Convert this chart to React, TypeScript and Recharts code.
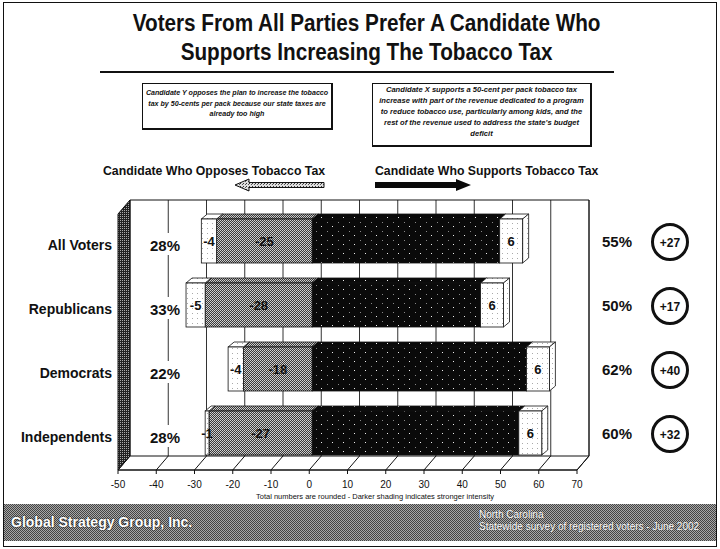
import { BarChart, Bar, XAxis, YAxis, CartesianGrid, ReferenceArea, LabelList } from "recharts";

const groups = ["All Voters", "Republicans", "Democrats", "Independents"];
const strongOppose = [-25, -28, -18, -27];
const someOppose = [-4, -5, -4, -1];
const strongSupport = [49, 44, 56, 54];
const someSupport = [6, 6, 6, 6];
const opposeTotal = [28, 33, 22, 28];
const supportTotal = [55, 50, 62, 60];
const netMargin = [27, 17, 40, 32];
const axisTicks = [-50, -40, -30, -20, -10, 0, 10, 20, 30, 40, 50, 60, 70];
const domain = [-50, 70];

const rows = groups.map((g, i) => ({
  group: g,
  strongOppose: strongOppose[i],
  someOppose: someOppose[i],
  strongSupport: strongSupport[i],
  someSupport: someSupport[i],
}));

const FONT = "'Liberation Sans', Arial, Helvetica, sans-serif";
const DX = 6;
const DY = 5;

function Block(props: any) {
  const { x, y, width, height, fill, side } = props;
  const x0 = Math.min(x, x + width);
  const w = Math.abs(width);
  if (!w || !height) return null;
  const st = { stroke: "#111", strokeWidth: 0.8 };
  return (
    <g>
      <polygon points={`${x0},${y} ${x0 + DX},${y - DY} ${x0 + w + DX},${y - DY} ${x0 + w},${y}`} fill={fill} {...st} />
      {side && (
        <polygon
          points={`${x0 + w},${y} ${x0 + w + DX},${y - DY} ${x0 + w + DX},${y + height - DY} ${x0 + w},${y + height}`}
          fill={fill}
          {...st}
        />
      )}
      <rect x={x0} y={y} width={w} height={height} fill={fill} {...st} />
    </g>
  );
}

const segLabel = (p: any) => {
  const vb = p.viewBox ?? p;
  const cx = Number(vb.x) + Number(vb.width) / 2;
  const cy = Number(vb.y) + Number(vb.height) / 2;
  return (
    <text x={cx} y={cy + 5} textAnchor="middle" fontFamily={FONT} fontWeight={700} fontSize={13} fill="#111">
      {p.value}
    </text>
  );
};

function Frame(p: any) {
  const { x, y, width, height } = p;
  const fl = x - 3;
  const fr = x + width - 3;
  const floorF = y + height + 5;
  const floorB = floorF - 14;
  const top = y - 9;
  const bl = fl + 12;
  const br = fr + 12;
  return (
    <g>
      <polygon points={`${fl},${top + 14} ${bl},${top} ${bl},${floorB} ${fl},${floorF}`} fill="url(#pWall)" stroke="#111" />
      <polyline points={`${bl},${top} ${br},${top} ${br},${floorB} ${fr},${floorF}`} fill="none" stroke="#111" />
      <line x1={bl} y1={floorB} x2={br} y2={floorB} stroke="#111" />
      <line x1={fl} y1={floorF} x2={fr} y2={floorF} stroke="#111" strokeWidth={1.5} />
    </g>
  );
}

function FloorTick(p: any) {
  const { x, y, payload } = p;
  const fx = x - 3;
  return (
    <g>
      <line x1={fx} y1={y} x2={fx + 12} y2={y - 14} stroke="#111" />
      <line x1={fx} y1={y} x2={fx} y2={y + 4} stroke="#111" />
      <text x={fx} y={y + 18} textAnchor="middle" fontFamily={FONT} fontSize={10} fill="#111">
        {payload.value}
      </text>
    </g>
  );
}

function RowTick(p: any) {
  const { x, y, payload } = p;
  const i = groups.indexOf(payload.value);
  return (
    <g fontFamily={FONT} fill="#111">
      <text x={x} y={y + 9} textAnchor="end" fontWeight={700} fontSize={14}>
        {payload.value}
      </text>
      <rect x={146} y={y - 8} width={38} height={22} fill="#fff" />
      <text x={165} y={y + 10} textAnchor="middle" fontWeight={700} fontSize={15}>
        {opposeTotal[i]}%
      </text>
      <text x={617} y={y + 6} textAnchor="middle" fontWeight={700} fontSize={15}>
        {supportTotal[i]}%
      </text>
      <circle cx={670} cy={y + 1} r={17.5} fill="#fff" stroke="#111" strokeWidth={3} />
      <text x={670} y={y + 5.5} textAnchor="middle" fontWeight={700} fontSize={12}>
        +{netMargin[i]}
      </text>
    </g>
  );
}

// back-wall gridlines sit a little to the right of the front axis (fake 3D depth)
const backGrid = ({ xAxis, offset }: any) => {
  const s = xAxis && xAxis.scale;
  if (typeof s === "function") return axisTicks.map((v) => s(v) + 9);
  if (s && typeof s.map === "function") return axisTicks.map((v) => s.map(v) + 9);
  return axisTicks.map((v) => offset.left + ((v - domain[0]) / (domain[1] - domain[0])) * offset.width + 9);
};

const boxText = {
  fontFamily: FONT,
  fontStyle: "italic",
  fontWeight: 700,
  textAlign: "center" as const,
  whiteSpace: "nowrap" as const,
  color: "#111",
  boxSizing: "border-box" as const,
  border: "1px solid #111",
  borderRightWidth: 2,
  borderBottomWidth: 2,
};

export default function App() {
  return (
    <div style={{ position: "fixed", left: 0, top: 0, width: 720, height: 549, background: "#fff", overflow: "hidden" }}>
      <div style={{ position: "absolute", left: 0, top: 0 }}>
        <BarChart
          width={720}
          height={549}
          data={rows}
          layout="vertical"
          stackOffset="sign"
          barSize={44}
          margin={{ top: 209, right: 140, bottom: 54, left: 61 }}
        >
          <defs>
            <pattern id="pBlack" width={11} height={9} patternUnits="userSpaceOnUse">
              <rect width={11} height={9} fill="#0a0a0a" />
              <rect x={2} y={1} width={1} height={1} fill="#eee" />
              <rect x={8} y={6} width={1} height={1} fill="#888" />
            </pattern>
            <pattern id="pGray" width={2} height={2} patternUnits="userSpaceOnUse">
              <rect width={2} height={2} fill="#3a3a3a" />
              <rect x={0} y={0} width={1} height={1} fill="#d4d4d4" />
              <rect x={1} y={1} width={1} height={1} fill="#c4c4c4" />
            </pattern>
            <pattern id="pWhite" width={5} height={5} patternUnits="userSpaceOnUse">
              <rect width={5} height={5} fill="#fff" />
              <rect x={2} y={3} width={1} height={1} fill="#aaa" />
            </pattern>
            <pattern id="pWall" width={2} height={2} patternUnits="userSpaceOnUse">
              <rect width={2} height={2} fill="#222" />
              <rect x={0} y={0} width={1} height={1} fill="#aaa" />
            </pattern>
          </defs>
          <CartesianGrid horizontal={false} stroke="#333" y={200} height={256} verticalCoordinatesGenerator={backGrid} />
          <ReferenceArea x1={-50} x2={70} shape={(p: any) => <Frame {...p} />} ifOverflow="visible" />
          <XAxis
            type="number"
            domain={domain}
            ticks={axisTicks}
            interval={0}
            axisLine={false}
            tickLine={false}
            tickSize={5}
            tickMargin={0}
            tick={(p: any) => <FloorTick {...p} />}
          />
          <YAxis
            type="category"
            dataKey="group"
            width={60}
            axisLine={false}
            tickLine={false}
            tickSize={0}
            tickMargin={9}
            interval={0}
            tick={(p: any) => <RowTick {...p} />}
          />
          <Bar dataKey="strongOppose" stackId="a" isAnimationActive={false} shape={(p: any) => <Block {...p} fill="url(#pGray)" />}>
            <LabelList dataKey="strongOppose" content={segLabel} />
          </Bar>
          <Bar dataKey="someOppose" stackId="a" isAnimationActive={false} shape={(p: any) => <Block {...p} fill="url(#pWhite)" />}>
            <LabelList dataKey="someOppose" content={segLabel} />
          </Bar>
          <Bar dataKey="strongSupport" stackId="a" isAnimationActive={false} shape={(p: any) => <Block {...p} fill="url(#pBlack)" />} />
          <Bar dataKey="someSupport" stackId="a" isAnimationActive={false} shape={(p: any) => <Block {...p} fill="url(#pWhite)" side />}>
            <LabelList dataKey="someSupport" content={segLabel} />
          </Bar>
        </BarChart>
      </div>

      <div
        style={{
          position: "absolute", left: 6, top: 9, width: 720, textAlign: "center",
          fontFamily: FONT, fontWeight: 700, fontSize: 23, lineHeight: "29px", color: "#111",
          transform: "scaleX(0.9)", transformOrigin: "366px 0",
        }}
      >
        Voters From All Parties Prefer A Candidate Who
        <br />
        Supports Increasing The Tobacco Tax
      </div>
      <div style={{ position: "absolute", left: 100, top: 71, width: 514, height: 2, background: "#111" }} />

      <div style={{ ...boxText, position: "absolute", left: 142, top: 83, width: 191, height: 47, paddingTop: 4, fontSize: 7.1, lineHeight: "10.5px" }}>
        Candidate Y opposes the plan to increase the tobacco
        <br />
        tax by 50-cents per pack because our state taxes are
        <br />
        already too high
      </div>
      <div style={{ ...boxText, position: "absolute", left: 372, top: 83, width: 220, height: 64, paddingTop: 0, fontSize: 7.6, lineHeight: "11px" }}>
        Candidate X supports a 50-cent per pack tobacco tax
        <br />
        increase with part of the revenue dedicated to a program
        <br />
        to reduce tobacco use, particularly among kids, and the
        <br />
        rest of the revenue used to address the state's budget
        <br />
        deficit
      </div>

      <div
        style={{
          position: "absolute", left: 103, top: 163, fontFamily: FONT, fontWeight: 700, fontSize: 13.5, color: "#111",
          whiteSpace: "nowrap", transform: "scaleX(0.91)", transformOrigin: "0 0",
        }}
      >
        Candidate Who Opposes Tobacco Tax
      </div>
      <div
        style={{
          position: "absolute", left: 375, top: 163, fontFamily: FONT, fontWeight: 700, fontSize: 13.5, color: "#111",
          whiteSpace: "nowrap", transform: "scaleX(0.91)", transformOrigin: "0 0",
        }}
      >
        Candidate Who Supports Tobacco Tax
      </div>
      <svg style={{ position: "absolute", left: 0, top: 0 }} width={720} height={200}>
        <defs>
          <pattern id="pArrow" width={3} height={3} patternUnits="userSpaceOnUse">
            <rect width={3} height={3} fill="#ddd" />
            <rect x={0} y={0} width={1} height={1} fill="#333" />
            <rect x={2} y={1} width={1} height={1} fill="#555" />
          </pattern>
        </defs>
        <polygon points="235,185 249,179 249,182.5 324,182.5 324,187.5 249,187.5 249,191" fill="url(#pArrow)" stroke="#111" strokeWidth={1} />
        <polygon points="375,182 456,182 456,179 471,185 456,191 456,188 375,188" fill="#0a0a0a" />
      </svg>

      <div
        style={{
          position: "absolute", left: 225, top: 492, width: 300, textAlign: "center",
          fontFamily: FONT, fontSize: 7.5, color: "#111",
        }}
      >
        Total numbers are rounded - Darker shading indicates stronger intensity
      </div>

      <div
        style={{
          position: "absolute", left: 3, top: 504, width: 713, height: 37,
          background: "repeating-conic-gradient(#444 0 25%, #a8a8a8 0 50%) 0 0/2px 2px",
          color: "#fff", fontFamily: FONT,
        }}
      >
        <div style={{ position: "absolute", left: 8, top: 10, fontWeight: 700, fontSize: 14, textShadow: "0 0 2px #000" }}>
          Global Strategy Group, Inc.
        </div>
        <div
          style={{
            position: "absolute", left: 476, top: 5, fontSize: 10, lineHeight: "12px", color: "#fff",
            whiteSpace: "nowrap", textShadow: "0 0 1px #333",
          }}
        >
          North Carolina
          <br />
          Statewide survey of registered voters - June 2002
        </div>
      </div>

      <div
        style={{
          position: "absolute", left: 3, top: 2, width: 714, height: 545, boxSizing: "border-box",
          border: "1.5px solid #111", pointerEvents: "none",
        }}
      />
    </div>
  );
}
